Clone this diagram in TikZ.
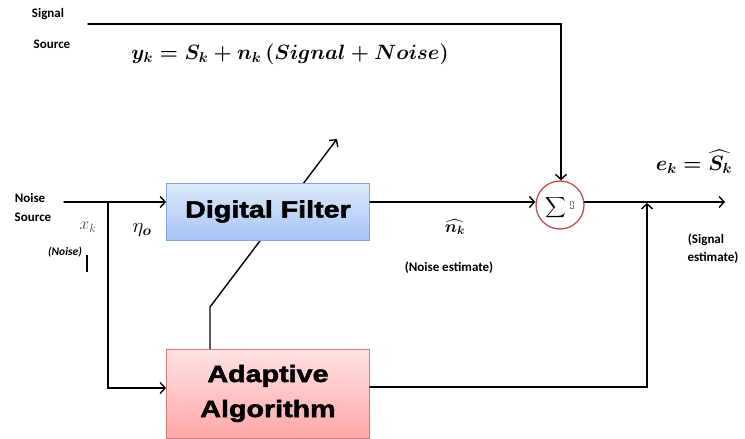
\documentclass[tikz,border=0pt]{standalone}
\usepackage{fontspec}
\usepackage{amsmath}
\setmainfont{Carlito}
\newfontfamily\boxfont[FakeStretch=1.22,BoldFeatures={FakeBold=2.2}]{Liberation Sans}
\usetikzlibrary{arrows.meta}
\definecolor{bluetop}{HTML}{DEEAFC}
\definecolor{bluebot}{HTML}{A6C3F4}
\definecolor{blueedge}{HTML}{86A8DD}
\definecolor{redtop}{HTML}{FFE2E2}
\definecolor{redbot}{HTML}{FFA7A7}
\definecolor{rededge}{HTML}{D07A7A}
\definecolor{sumedge}{HTML}{C0504D}
\definecolor{xkcol}{HTML}{3C4A66}
\newcommand\myformula{{\boldmath$y_k=S_k+n_k\,(Signal+Noise)$}}
\newcommand\myxk{$x_k$}
\newcommand\myeta{$\eta_{\boldsymbol{o}}$}
\newcommand\mynhat{{\boldmath$\widehat{n_k}$}}
\newcommand\myek{{\boldmath$e_k=\widehat{S_k}$}}
\newcommand\mysum{$\displaystyle\sum$}
\begin{document}
\begin{tikzpicture}[x=1pt,y=-1pt,
  conn/.style={line width=1.4pt,line cap=round},
  arr/.style={conn,-{Straight Barb[length=5pt,width=11pt,line width=1.4pt]}},
  lbl/.style={font=\fontsize{13}{14}\selectfont\bfseries,inner sep=0pt},
  blk/.style={draw,line width=0.9pt,minimum width=203pt,inner sep=0pt,align=center,
     font=\boxfont\bfseries\fontsize{23.5}{37}\selectfont},
  bluebox/.style={blk,draw=blueedge,top color=bluetop,bottom color=bluebot,minimum height=57pt},
  redbox/.style={blk,draw=rededge,top color=redtop,bottom color=redbot,minimum height=89pt},
  bigmath/.style={inner sep=0pt,font=\fontsize{20}{24}\selectfont},
  midmath/.style={inner sep=0pt,font=\fontsize{18}{20}\selectfont},
  sigmath/.style={inner sep=0pt,font=\fontsize{15}{18}\selectfont},
  smallmath/.style={inner sep=0pt,font=\fontsize{17}{18}\selectfont}]
\useasboundingbox (0,0) rectangle (745,439);
% texts
\node[lbl] (sig1) at (48,14) {Signal};
\node[lbl] (sig2) at (52,44) {Source};
\node[lbl] (noi1) at (30,198) {Noise};
\node[lbl] (noi2) at (33,217) {Source};
\node[bigmath] (formula) at (290,54) {\myformula};
\node[smallmath,text=xkcol] (xk) at (88,227) {\myxk};
\node[midmath,font=\fontsize{20}{22}\selectfont] (eta) at (142,230) {\myeta};
\node[lbl,font=\fontsize{11.5}{12}\selectfont\bfseries\itshape] (noisetxt) at (65,252) {(Noise)};
\node[midmath] (nhat) at (455,227) {\mynhat};
\node[lbl] (nest) at (449,268) {(Noise estimate)};
\node[bigmath] (ek) at (694,162) {\myek};
\node[lbl] (sest1) at (706,240) {(Signal};
\node[lbl] (sest2) at (713,258) {estimate)};
% stray tick
\draw[line width=1.2pt] (87,255) -- (87,272);
% adaptive box
\node[redbox] (aa) at (268,393.5) {Adaptive\\[-2pt]Algorithm};
% feedback line (behind filter)
\coordinate (fb1) at (210,307);
\coordinate (fb2) at (337,139);
\draw[arr] (aa.north -| fb1) -- (fb1) -- (fb2);
% digital filter
\node[bluebox] (df) at (268,211.5) {Digital Filter};
% sum
\node[draw=sumedge,line width=1.3pt,circle,minimum size=48pt,fill=white,inner sep=0pt] (sum) at (560,205) {};
\node[sigmath] (sigma) at (556,208) {\mysum};
\node[draw=gray,line width=0.3pt,densely dotted,minimum width=3pt,minimum height=7pt,inner sep=0pt] (ph) at (572,205) {};
% connectors
\coordinate (ns) at (64,202);
\coordinate (br) at (108,202);
\coordinate (brb) at (108,388);
\draw[arr] (ns) -- (df.west |- ns);
\draw[arr] (br) -- (brb) -- (aa.west |- brb);
\coordinate (mid) at (450,202);
\draw[arr] (df.east |- mid) -- (sum.west |- mid);
\coordinate (ss) at (88,24);
\coordinate (sc) at (561,24);
\draw[arr] (ss) -- (sc) -- (sum.north -| sc);
\coordinate (out) at (725,202);
\draw[arr] (sum.east |- out) -- (out);
\coordinate (ab) at (647,387);
\coordinate (at) at (647,203);
\draw[arr] (aa.east |- ab) -- (ab) -- (at);
\end{tikzpicture}
\end{document}
